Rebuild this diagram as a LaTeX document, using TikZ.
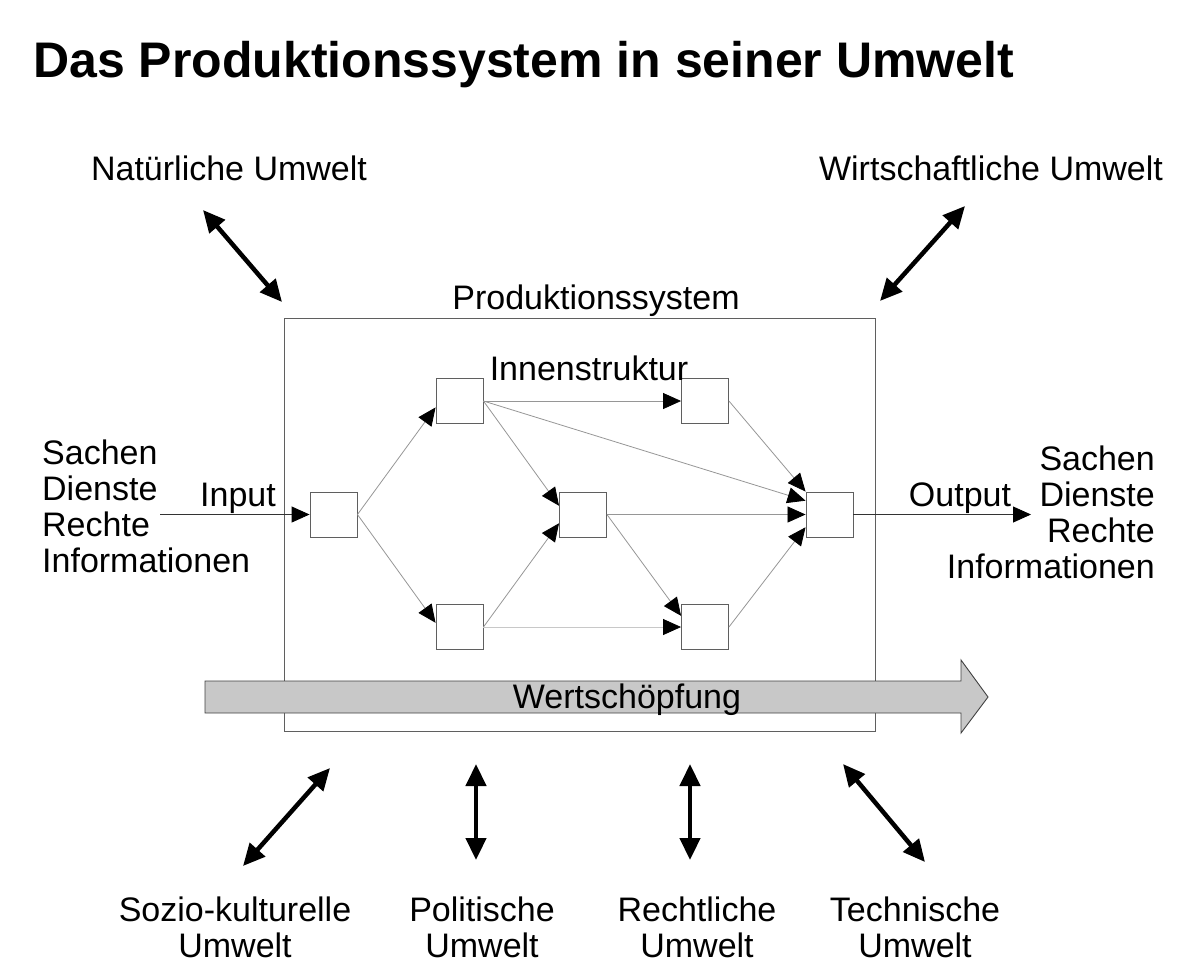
\documentclass[tikz,border=0pt]{standalone}
\usepackage{fontspec}
\setmainfont{Liberation Sans}
\usetikzlibrary{arrows.meta, calc}
\definecolor{flowgray}{RGB}{150,150,150}
\definecolor{boxgray}{RGB}{95,95,95}
\definecolor{valuegray}{RGB}{200,200,200}

\begin{document}
\begin{tikzpicture}[
    x=1pt, y=-1pt,
    every node/.style={font=\fontsize{34}{36}\selectfont, inner sep=0pt},
    unit/.style={rectangle, draw=boxgray, fill=white, line width=0.9pt,
                 minimum width=47pt, minimum height=45pt},
    flow/.style={draw=flowgray, line width=0.8pt,
                 -{Triangle[length=18pt, width=16pt, color=black]}},
    iolink/.style={draw=black!80, line width=0.9pt,
                   -{Triangle[length=18pt, width=16pt, color=black]}},
    envarrow/.style={line width=4.5pt,
                     {Triangle[length=22pt, width=20pt]}-{Triangle[length=22pt, width=20pt]}},
    envlabel/.style={align=center, anchor=north}
]
\useasboundingbox (0,0) rectangle (1190,978);
%% Title
\node[anchor=base west, font=\fontsize{50}{54}\selectfont\bfseries] (title) at (33,77)
    {Das Produktionssystem in seiner Umwelt};
%% Production system box
\node[draw=boxgray, line width=0.9pt, minimum width=591pt, minimum height=413pt]
      (prod) at (579.5,524.5) {};
\node[anchor=base] (prodlabel) at (596,309) {Produktionssystem};
%% Inner structure
\node[unit] (in)  at (333.5,514.5) {};
\node[unit] (tl)  at (459.5,401) {};
\node[unit] (bl)  at (459.5,627) {};
\node[unit] (mid) at (583,514.5) {};
\node[unit] (tr)  at (705,401) {};
\node[unit] (br)  at (705,627) {};
\node[unit] (out) at (829.5,514.5) {};
\node[anchor=base] (inner) at (589,380) {Innenstruktur};
\draw[flow] (in.east) -- (tl.195);
\draw[flow] (in.east) -- (bl.170);
\draw[flow] (tl.east) -- (tr.west);
\draw[flow] (tl.east) -- (mid.160);
\draw[flow] (tl.east) -- (out.150);
\draw[flow] (bl.east) -- (mid.200);
\draw[flow, draw=valuegray] (bl.east) -- (br.west);
\draw[flow] (mid.east) -- (br.155);
\draw[flow] (mid.east) -- (out.west);
\draw[flow] (tr.east) -- (out.north west);
\draw[flow] (br.east) -- (out.208);
%% Input and output
\node[anchor=north west, align=left] (inputs) at (42,440)
    {Sachen\\Dienste\\Rechte\\Informationen};
\node[anchor=north east, align=right] (outputs) at (1155,446)
    {Sachen\\Dienste\\Rechte\\Informationen};
\node[anchor=base] (inlabel) at (238,506) {Input};
\node[anchor=base] (outlabel) at (960,506) {Output};
\coordinate (instart) at (160,514.5);
\coordinate (outend) at (1031,514.5);
\draw[iolink] (instart) -- (in.west);
\draw[iolink] (out.east) -- (outend);
%% Value chain arrow
\draw[draw=black!75, fill=valuegray, line width=0.9pt]
    (205,681) -- (961,681) -- (961,660) -- (988,697) -- (961,733) -- (961,713) -- (205,713) -- cycle;
\node[anchor=base] (wert) at (627,708) {Wertschöpfung};
%% Environments
\node[anchor=base] (natur) at (229,180) {Natürliche Umwelt};
\node[anchor=base] (wirt) at (991,180) {Wirtschaftliche Umwelt};
\node[envlabel] (sozio) at (235,897) {Sozio-kulturelle\\Umwelt};
\node[envlabel] (polit) at (482,897) {Politische\\Umwelt};
\node[envlabel] (recht) at (697,897) {Rechtliche\\Umwelt};
\node[envlabel] (tech)  at (915,897) {Technische\\Umwelt};
\coordinate (naturA) at (203,210);  \coordinate (naturB) at (282,302);
\coordinate (wirtA)  at (965,206);  \coordinate (wirtB)  at (880,301);
\coordinate (sozioA) at (330,768);  \coordinate (sozioB) at (243,866);
\coordinate (politA) at (476,764);  \coordinate (politB) at (476,860);
\coordinate (rechtA) at (690,764);  \coordinate (rechtB) at (690,860);
\coordinate (techA)  at (843,764);  \coordinate (techB)  at (925,862);
\foreach \env in {natur, wirt, sozio, polit, recht, tech}
    \draw[envarrow] (\env A) -- (\env B);
\end{tikzpicture}
\end{document}
